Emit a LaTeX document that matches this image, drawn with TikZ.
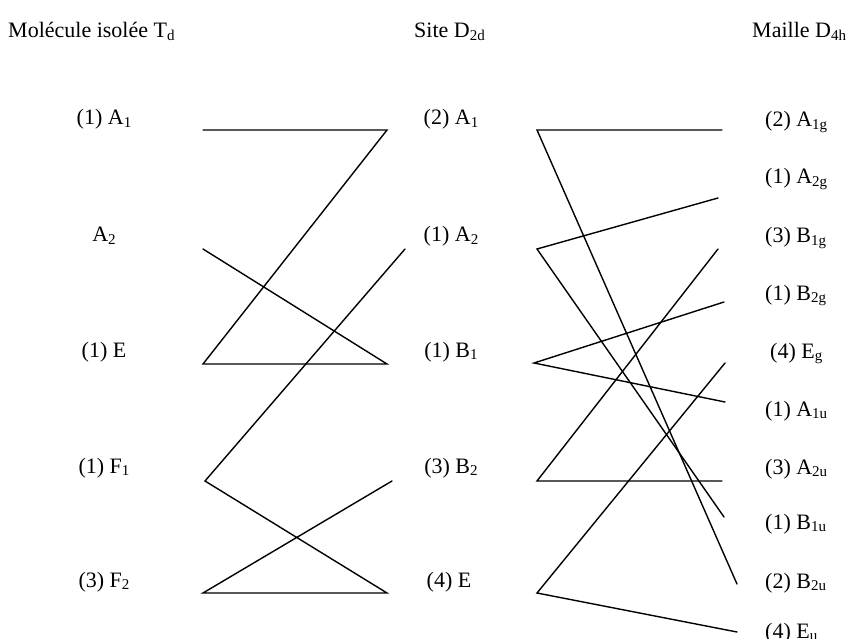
\documentclass[tikz,border=0pt]{standalone}
\usepackage{fontspec}
\setmainfont{Liberation Serif}
\newcommand\sbs[1]{\raisebox{-2.8pt}{\fontsize{15}{16}\selectfont #1}}
\begin{document}
\begin{tikzpicture}[x=1pt,y=-1pt,
  lbl/.style={font=\fontsize{22}{26}\selectfont, inner sep=0pt, anchor=base},
  lblw/.style={lbl, anchor=base west},
  conn/.style={line width=1.4pt, line cap=round}]
\useasboundingbox (0,0) rectangle (849,639);
% titles
\node[lblw] (tTd) at (8,38) {Molécule isolée T\sbs{d}};
\node[lblw] (tD2d) at (414,38) {Site D\sbs{2d}};
\node[lblw] (tD4h) at (752,38) {Maille D\sbs{4h}};
% Td labels
\node[lbl] (lA1) at (104,125) {(1) A\sbs{1}};
\node[lbl] (lA2) at (104,242) {A\sbs{2}};
\node[lbl] (lE)  at (104,357) {(1) E};
\node[lbl] (lF1) at (104,473) {(1) F\sbs{1}};
\node[lbl] (lF2) at (104,587) {(3) F\sbs{2}};
% D2d labels
\node[lbl] (mA1) at (451,125) {(2) A\sbs{1}};
\node[lbl] (mA2) at (451,242) {(1) A\sbs{2}};
\node[lbl] (mB1) at (451,357) {(1) B\sbs{1}};
\node[lbl] (mB2) at (451,473) {(3) B\sbs{2}};
\node[lbl] (mE)  at (449,587) {(4) E};
% D4h labels
\node[lblw] (rA1g) at (765,127) {(2) A\sbs{1g}};
\node[lblw] (rA2g) at (765,184) {(1) A\sbs{2g}};
\node[lblw] (rB1g) at (765,243) {(3) B\sbs{1g}};
\node[lblw] (rB2g) at (765,300) {(1) B\sbs{2g}};
\node[lblw] (rEg)  at (770,358) {(4) E\sbs{g}};
\node[lblw] (rA1u) at (765,416) {(1) A\sbs{1u}};
\node[lblw] (rA2u) at (765,474) {(3) A\sbs{2u}};
\node[lblw] (rB1u) at (765,529) {(1) B\sbs{1u}};
\node[lblw] (rB2u) at (765,588) {(2) B\sbs{2u}};
\node[lblw] (rEu)  at (765,638) {(4) E\sbs{u}};
% endpoints, Td side
\coordinate (TA1) at (203,130);
\coordinate (TA2) at (203,249);
\coordinate (TE)  at (203,364);
\coordinate (TF1) at (205,481);
\coordinate (TF2) at (203,593);
% endpoints, D2d left side
\coordinate (SA1L) at (387,130);
\coordinate (SA2L) at (405,249);
\coordinate (SB1L) at (387,364);
\coordinate (SB2L) at (392,481);
\coordinate (SEL)  at (387,593);
% endpoints, D2d right side
\coordinate (SA1R) at (537,130);
\coordinate (SA2R) at (537,249);
\coordinate (SB1R) at (534,363);
\coordinate (SB2R) at (537,481);
\coordinate (SER)  at (537,593);
% endpoints, D4h side
\coordinate (MA1g) at (722,130);
\coordinate (MA2g) at (718,198);
\coordinate (MB1g) at (718,249);
\coordinate (MB2g) at (724,302);
\coordinate (MEg)  at (725,363);
\coordinate (MA1u) at (725,402);
\coordinate (MA2u) at (722,481);
\coordinate (MB1u) at (724,517);
\coordinate (MB2u) at (737,584);
\coordinate (MEu)  at (737,632);
% Td -> D2d
\draw[conn] (TA1) -- (SA1L) -- (TE) -- (SB1L) -- (TA2);
\draw[conn] (SA2L) -- (TF1) -- (SEL) -- (TF2) -- (SB2L);
% D2d -> D4h
\draw[conn] (MA1g) -- (SA1R) -- (MB2u);
\draw[conn] (MA2g) -- (SA2R) -- (MB1u);
\draw[conn] (MB2g) -- (SB1R) -- (MA1u);
\draw[conn] (MB1g) -- (SB2R) -- (MA2u);
\draw[conn] (MEg) -- (SER) -- (MEu);
\end{tikzpicture}
\end{document}
